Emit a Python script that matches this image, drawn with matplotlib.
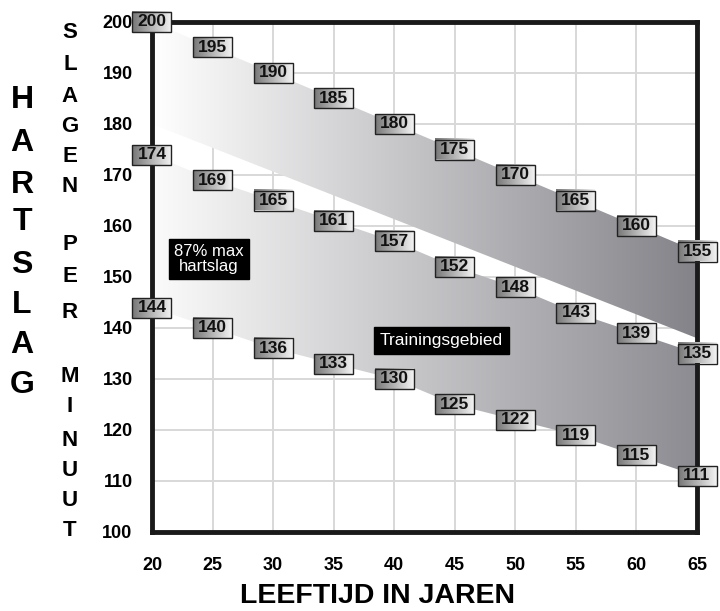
import numpy as np
import matplotlib
matplotlib.use('Agg')
import matplotlib.pyplot as plt
from matplotlib.colors import LinearSegmentedColormap
from matplotlib.patches import Polygon, Rectangle

plt.rcParams['font.family'] = ['Liberation Sans', 'DejaVu Sans']

# data
ages = [20, 25, 30, 35, 40, 45, 50, 55, 60, 65]
max_hr = [200, 195, 190, 185, 180, 175, 170, 165, 160, 155]
upper_87 = [174, 169, 165, 161, 157, 152, 148, 143, 139, 135]
lower_72 = [144, 140, 136, 133, 130, 125, 122, 119, 115, 111]
# lower edge of the top band (about 90% of max), only the endpoints
band90_ages = [20, 65]
band90_vals = [180, 138]

x_ticks = [20, 25, 30, 35, 40, 45, 50, 55, 60, 65]
y_ticks = [100, 110, 120, 130, 140, 150, 160, 170, 180, 190, 200]

fig = plt.figure(figsize=(7.2, 6.11), dpi=100)
ax = fig.add_axes([152 / 720, 1 - 532 / 611, 545 / 720, 510 / 611])
ax.set_xlim(20, 65)
ax.set_ylim(100, 200)

# grid
ax.set_xticks(x_ticks)
ax.set_yticks(y_ticks)
ax.grid(True, color='#d8d8d8', linewidth=1.4)
ax.set_axisbelow(True)
ax.tick_params(length=0, labelsize=13)
ax.tick_params(axis='y', pad=14)
ax.tick_params(axis='x', pad=18)
for lab in ax.get_xticklabels() + ax.get_yticklabels():
    lab.set_fontweight('bold')
for sp in ax.spines.values():
    sp.set_linewidth(3.5)
    sp.set_color('#1a1a1a')
    sp.set_zorder(4)

grad = np.linspace(0, 1, 256).reshape(1, -1)


def band(xs_top, ys_top, xs_bot, ys_bot, c0, c1):
    cmap = LinearSegmentedColormap.from_list('b', [c0, c1])
    pts = list(zip(xs_top, ys_top)) + list(zip(xs_bot[::-1], ys_bot[::-1]))
    poly = Polygon(pts, closed=True, facecolor='none', edgecolor='none')
    ax.add_patch(poly)
    im = ax.imshow(grad, cmap=cmap, extent=[20, 65, 100, 200], aspect='auto',
                   origin='lower', zorder=1, interpolation='bicubic')
    im.set_clip_path(poly)


band(ages, max_hr, band90_ages, band90_vals, '#ffffff', '#838389')
band(ages, upper_87, ages, lower_72, '#fbfbfb', '#8c8c92')

# value boxes
box_cmap = LinearSegmentedColormap.from_list('box', ['#767676', '#f4f4f4'])
bw = 39 * 45 / 545
bh = 20 * 100 / 510


def value_box(x, y, txt):
    im = ax.imshow(grad, cmap=box_cmap, extent=[x - bw / 2, x + bw / 2, y - bh / 2, y + bh / 2],
                   aspect='auto', origin='lower', zorder=6)
    im.set_clip_on(False)
    ax.add_patch(Rectangle((x - bw / 2, y - bh / 2), bw, bh, facecolor='none',
                           edgecolor='#222222', linewidth=1.0, zorder=7, clip_on=False))
    ax.text(x, y, str(txt), ha='center', va='center', fontsize=12.5, fontweight='bold',
            color='#111111', zorder=8, clip_on=False)


for series in (max_hr, upper_87, lower_72):
    for a, v in zip(ages, series):
        value_box(a, v, v)

ax.set_xlim(20, 65)
ax.set_ylim(100, 200)

# black annotation boxes
ax.text(24.7, 153.5, '87% max\nhartslag', ha='center', va='center', color='white',
        fontsize=12, linespacing=1.05, zorder=8,
        bbox=dict(boxstyle='square,pad=0.3', facecolor='black', edgecolor='black'))
ax.text(43.9, 137.6, 'Trainingsgebied', ha='center', va='center', color='white',
        fontsize=12.5, zorder=8,
        bbox=dict(boxstyle='square,pad=0.35', facecolor='black', edgecolor='black'))

# stacked axis titles
for ch, yp in zip('HARTSLAG', [100, 143, 185, 222, 265, 305, 345, 385]):
    fig.text(22 / 720, 1 - yp / 611, ch, ha='center', va='center', fontsize=23,
             fontweight='bold')
for ch, yp in zip('SLAGENPERMINUUT',
                  [33, 64, 97, 127, 157, 187, 245, 277, 312, 377, 407, 440, 470, 500, 530]):
    fig.text(70 / 720, 1 - yp / 611, ch, ha='center', va='center', fontsize=16,
             fontweight='bold')

fig.text(0.525, 1 - 596 / 611, 'LEEFTIJD IN JAREN', ha='center', va='center',
         fontsize=20.5, fontweight='bold')

fig.savefig('out.png', dpi=100)
